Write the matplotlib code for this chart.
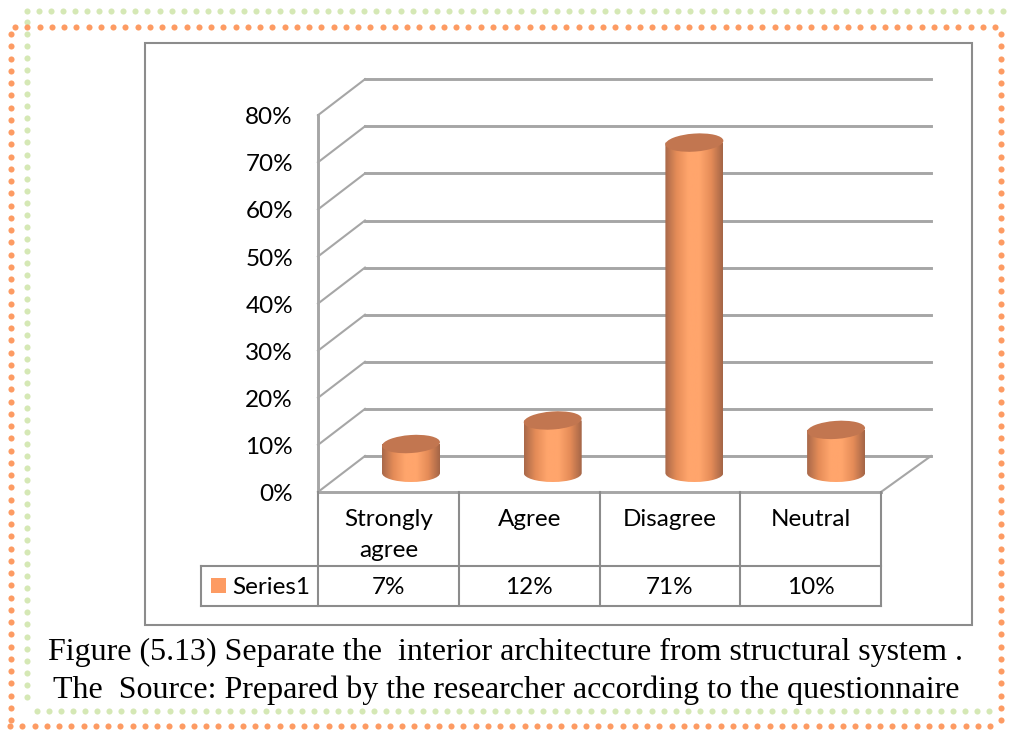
import numpy as np
import matplotlib
matplotlib.use('Agg')
import matplotlib.pyplot as plt
from matplotlib.colors import LinearSegmentedColormap
from matplotlib.patches import Ellipse, PathPatch, Rectangle
from matplotlib.path import Path

categories = ['Strongly\nagree', 'Agree', 'Disagree', 'Neutral']
values = [7, 12, 71, 10]
value_labels = ['7%', '12%', '71%', '10%']
y_ticks = [0, 10, 20, 30, 40, 50, 60, 70, 80]
series_name = 'Series1'
caption = ['Figure (5.13) Separate the  interior architecture from structural system .',
           'The  Source: Prepared by the researcher according to the questionnaire']

W, H = 1009, 731
ORANGE = '#fd9b63'
GREEN = '#d5e8b5'
GRID = '#a6a6a6'
EDGE = '#8c8c8c'
UI_FONT = ['Lato', 'DejaVu Sans']

# plot geometry in image pixels
x0, x1 = 318, 881
y0, px_per_pct = 492, 4.71
dx, dy = 47, -36
base_y = 477
foot_y = 473
bar_rx, bar_ry = 29, 9
bar_first, bar_step = 411, 141.7

fig = plt.figure(figsize=(W / 100, H / 100), dpi=100)
ax = fig.add_axes([0, 0, 1, 1])
ax.set_xlim(0, W)
ax.set_ylim(H, 0)
ax.axis('off')


def val_y(v):
    return y0 - v * px_per_pct


def dotted(xs, ys, color, marker, size):
    ax.plot(xs, ys, ls='none', marker=marker, ms=size, color=color, mew=0, zorder=1)


# double dotted border, green first then orange
gx = np.arange(27, 1007, 12.05)
gy = np.arange(22, 706, 12.05)
gbx = np.arange(37, 1000, 12.05)
dotted(gx, np.full_like(gx, 10.5), GREEN, 'o', 4.4)
dotted(np.full_like(gy, 26.5), gy, GREEN, 'o', 4.4)
dotted(gbx, np.full_like(gbx, 710.5), GREEN, 'o', 4.4)

ox = np.arange(15, 998, 12.25)
oy = np.arange(34, 722, 12.25)
obx = np.arange(10, 998, 12.25)
dotted(ox, np.full_like(ox, 26.5), ORANGE, 'o', 4.4)
dotted(np.full_like(oy, 10.5), oy, ORANGE, 'o', 4.4)
dotted(obx, np.full_like(obx, 726), ORANGE, 'o', 4.4)
dotted(np.full_like(oy, 1000.5), oy, ORANGE, 'o', 4.4)

# chart frame
ax.add_patch(Rectangle((145, 43), 827, 582, fc='white', ec=EDGE, lw=1.5, zorder=2))

# back wall, side wall and floor
for v in y_ticks:
    y = val_y(v)
    ax.plot([x0, x0 + dx], [y, y + dy], color=GRID, lw=1.5, zorder=3)
    if v > 0:
        ax.plot([x0 + dx, 931], [y + dy, y + dy], color=GRID, lw=2.1, zorder=3)
ax.plot([x0 + dx, 931], [y0 + dy, y0 + dy], color=GRID, lw=2.1, zorder=3)
ax.plot([x1, 931], [y0, y0 + dy], color=GRID, lw=1.5, zorder=3)
ax.plot([x0, x0], [val_y(80), y0], color=GRID, lw=2.1, zorder=3)
ax.plot([x0, x1], [y0, y0], color=GRID, lw=2.1, zorder=3)
for v in y_ticks:
    ax.text(293, val_y(v) + 2.5, f'{v}%', ha='right', va='center', fontsize=17.5, family=UI_FONT,
            color='black', zorder=5)

# cylinders
cmap = LinearSegmentedColormap.from_list('cyl', ['#a9694a', '#e58c58', '#ffa56c', '#ffa56c', '#e58c58', '#a46547'])
grad = np.linspace(0, 1, 128).reshape(1, -1)
cat_w = (x1 - x0) / len(categories)
for i, v in enumerate(values):
    cx = bar_first + bar_step * i
    top = base_y - v * px_per_pct
    left, right = cx - bar_rx, cx + bar_rx
    k = 0.5523
    verts = [(left, top), (left, foot_y), (left, foot_y + k * bar_ry), (cx - k * bar_rx, foot_y + bar_ry),
             (cx, foot_y + bar_ry), (cx + k * bar_rx, foot_y + bar_ry), (right, foot_y + k * bar_ry),
             (right, foot_y), (right, top), (left, top)]
    codes = [Path.MOVETO, Path.LINETO, Path.CURVE4, Path.CURVE4, Path.CURVE4, Path.CURVE4, Path.CURVE4,
             Path.CURVE4, Path.LINETO, Path.CLOSEPOLY]
    clip = PathPatch(Path(verts, codes), transform=ax.transData, fc='none', ec='none')
    ax.add_patch(clip)
    im = ax.imshow(grad, extent=[left, right, foot_y + bar_ry, top], cmap=cmap, aspect='auto', zorder=4)
    im.set_clip_path(clip)
    ax.add_patch(Ellipse((cx, top), 2 * bar_rx, 2 * bar_ry, angle=-4, fc='#c27650', ec='none', zorder=4.5))
ax.set_xlim(0, W)
ax.set_ylim(H, 0)

# data table
row1, row2 = 566, 606
ax.plot([201, x1], [row1, row1], color=EDGE, lw=1.5, zorder=3)
ax.plot([201, x1], [row2, row2], color=EDGE, lw=1.5, zorder=3)
ax.plot([201, 201], [row1, row2], color=EDGE, lw=1.5, zorder=3)
for i in range(len(categories) + 1):
    ax.plot([x0 + cat_w * i] * 2, [y0, row2], color=EDGE, lw=1.5, zorder=3)
for i, (c, t) in enumerate(zip(categories, value_labels)):
    cx = x0 + cat_w * (i + 0.5)
    ax.text(cx, 509, c, ha='center', va='top', fontsize=17.5, family=UI_FONT, color='black',
            linespacing=1.6, zorder=5)
    ax.text(cx, 587.5, t, ha='center', va='center', fontsize=17.5, family=UI_FONT, color='black', zorder=5)
ax.add_patch(Rectangle((211, 578), 15, 15, fc=ORANGE, ec='none', zorder=5))
ax.text(232, 587.5, series_name, ha='left', va='center', fontsize=17.5, family=UI_FONT, color='black', zorder=5)

# caption
ax.text(505, 652, caption[0], ha='center', va='center', fontsize=23, family='Liberation Serif', color='black', zorder=5)
ax.text(506, 690, caption[1], ha='center', va='center', fontsize=23, family='Liberation Serif', color='black', zorder=5)

fig.savefig('out.png', dpi=100)
